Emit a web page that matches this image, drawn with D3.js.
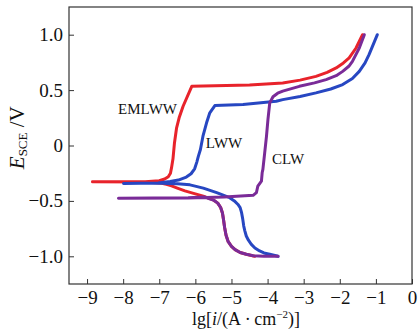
<!DOCTYPE html>
<html>
<head>
<meta charset="utf-8">
<script src="https://cdn.jsdelivr.net/npm/d3@7/dist/d3.min.js"></script>
<style>
  html, body { margin: 0; padding: 0; background: #fff; }
  svg { display: block; font-family: "Liberation Serif", "DejaVu Serif", serif; }
  .curve { fill: none; stroke-width: 3; stroke-linejoin: round; stroke-linecap: round; }
</style>
</head>
<body>
<svg id="chart" width="419" height="333"></svg>
<script>
// tick labels
const xTicks = [-9, -8, -7, -6, -5, -4, -3, -2, -1, 0];
const yTicks = [-1.0, -0.5, 0, 0.5, 1.0];

// polarisation curves, [lg i, E] (cathodic end -> Ecorr dip -> anodic end)
const emlww = [
  [-4.36, -1.0], [-4.59, -0.982], [-4.76, -0.966], [-4.90, -0.94], [-5.00, -0.91], [-5.09, -0.868],
  [-5.15, -0.81], [-5.19, -0.74], [-5.22, -0.67], [-5.25, -0.61], [-5.30, -0.56], [-5.38, -0.52],
  [-5.51, -0.490], [-5.78, -0.457], [-6.05, -0.432], [-6.29, -0.410], [-6.50, -0.385],
  [-6.66, -0.365], [-6.80, -0.350], [-6.93, -0.340], [-7.39, -0.329], [-8.85, -0.327],
  [-7.39, -0.327], [-7.00, -0.318], [-6.85, -0.302], [-6.75, -0.282], [-6.69, -0.25],
  [-6.66, -0.20], [-6.62, -0.12], [-6.58, 0.02], [-6.52, 0.16], [-6.45, 0.25],
  [-6.34, 0.354], [-6.10, 0.534], [-5.14, 0.541], [-4.50, 0.545], [-3.58, 0.565],
  [-3.10, 0.590], [-2.66, 0.624], [-2.35, 0.660], [-2.10, 0.700], [-1.90, 0.745],
  [-1.74, 0.790], [-1.55, 0.880], [-1.37, 1.0]
];
const lww = [
  [-3.71, -1.0], [-3.94, -0.982], [-4.10, -0.97], [-4.22, -0.952], [-4.35, -0.925],
  [-4.45, -0.892], [-4.53, -0.855], [-4.59, -0.817], [-4.63, -0.77], [-4.66, -0.727],
  [-4.69, -0.66], [-4.72, -0.606], [-4.76, -0.56], [-4.82, -0.532], [-4.92, -0.50],
  [-5.05, -0.471], [-5.41, -0.426], [-5.78, -0.385], [-6.15, -0.355], [-6.50, -0.345],
  [-6.75, -0.342], [-7.03, -0.338], [-7.99, -0.342], [-7.03, -0.338], [-6.70, -0.325],
  [-6.47, -0.312], [-6.25, -0.285], [-6.12, -0.255], [-6.02, -0.21], [-5.96, -0.15],
  [-5.92, -0.10], [-5.86, -0.036], [-5.79, 0.084], [-5.69, 0.205], [-5.60, 0.295],
  [-5.46, 0.360], [-4.68, 0.369], [-3.76, 0.399], [-3.58, 0.414], [-3.10, 0.443],
  [-2.66, 0.475], [-2.25, 0.510], [-1.92, 0.550], [-1.65, 0.605], [-1.46, 0.669],
  [-1.30, 0.745], [-1.19, 0.820], [-0.96, 1.0]
];
const clw = [
  [-3.71, -1.0], [-4.10, -1.0], [-4.40, -0.995], [-4.59, -0.982], [-4.76, -0.966],
  [-4.90, -0.94], [-5.00, -0.91], [-5.09, -0.868], [-5.15, -0.81], [-5.19, -0.74],
  [-5.22, -0.67], [-5.25, -0.61], [-5.30, -0.56], [-5.38, -0.52], [-5.48, -0.496],
  [-5.75, -0.465], [-6.20, -0.472], [-8.13, -0.477], [-6.20, -0.474], [-5.20, -0.465],
  [-4.40, -0.450], [-4.31, -0.426], [-4.27, -0.367], [-4.17, -0.322], [-4.15, -0.246],
  [-4.13, -0.216], [-4.08, -0.066], [-4.03, 0.084], [-3.99, 0.234], [-3.94, 0.385],
  [-3.85, 0.440], [-3.72, 0.472], [-3.58, 0.491], [-3.12, 0.534], [-2.70, 0.565],
  [-2.38, 0.595], [-2.10, 0.630], [-1.92, 0.669], [-1.75, 0.715], [-1.65, 0.759],
  [-1.46, 0.880], [-1.32, 1.0]
];

const series = [
  { name: 'EMLWW', points: emlww, color: '#e8232b', label: [-8.14, 0.288] },
  { name: 'LWW', points: lww, color: '#2747c2', label: [-5.71, -0.027] },
  { name: 'CLW', points: clw, color: '#7a2b98', label: [-3.88, -0.171] }
];

const serif = '"Liberation Serif", "DejaVu Serif", serif';
const svg = d3.select('#chart');
const margin = { top: 7, right: 7, bottom: 49, left: 69 };
const W = 419, H = 333;

const x = d3.scaleLinear().domain([-9.5, 0]).range([margin.left, W - margin.right]);
const y = d3.scaleLinear().domain([-1.25, 1.25]).range([H - margin.bottom, margin.top]);

// curves
const line = d3.line().x(d => x(d[0])).y(d => y(d[1]));
series.forEach(s => {
  svg.append('path')
    .datum(s.points)
    .attr('class', 'curve')
    .attr('stroke', s.color)
    .attr('d', line);
});

// curve names
series.forEach(s => {
  svg.append('text')
    .attr('x', x(s.label[0]))
    .attr('y', y(s.label[1]))
    .attr('font-size', 15)
    .attr('fill', '#111')
    .text(s.name);
});

// axes, ticks pointing inward
const styleAxis = g => {
  g.select('.domain').remove();
  g.attr('font-family', serif).attr('font-size', 19);
  g.selectAll('.tick line').attr('stroke', '#333');
  g.selectAll('.tick text').attr('fill', '#111');
};
const fmtY = d => d === 0 ? '0' : d3.format('.1f')(d);
svg.append('g')
  .attr('transform', `translate(${margin.left},0)`)
  .call(d3.axisLeft(y).tickValues(yTicks).tickSizeInner(-5).tickSizeOuter(0).tickPadding(6).tickFormat(fmtY))
  .call(styleAxis);

svg.append('g')
  .attr('transform', `translate(0,${H - margin.bottom})`)
  .call(d3.axisBottom(x).tickValues(xTicks).tickSizeInner(-5).tickSizeOuter(0).tickPadding(7).tickFormat(d3.format('d')))
  .call(styleAxis);

// frame
svg.append('rect')
  .attr('x', margin.left)
  .attr('y', margin.top)
  .attr('width', W - margin.left - margin.right)
  .attr('height', H - margin.top - margin.bottom)
  .attr('fill', 'none')
  .attr('stroke', '#333')
  .attr('stroke-width', 1.2);

// axis titles
const xt = svg.append('text')
  .attr('x', 246)
  .attr('y', 325)
  .attr('text-anchor', 'middle')
  .attr('font-size', 18)
  .attr('fill', '#111');
xt.append('tspan').text('lg[');
xt.append('tspan').attr('font-style', 'italic').text('i');
xt.append('tspan').text('/(A\u2009·\u2009cm');
xt.append('tspan').attr('font-size', 11).attr('dy', -7).text('\u22122');
xt.append('tspan').attr('dy', 7).text(')]');

const yt = svg.append('text')
  .attr('transform', `translate(24,${y(0.07)}) rotate(-90)`)
  .attr('text-anchor', 'middle')
  .attr('font-size', 21)
  .attr('fill', '#111');
yt.append('tspan').attr('font-style', 'italic').text('E');
yt.append('tspan').attr('font-size', 13).attr('dy', 3).text('SCE');
yt.append('tspan').attr('dy', -3).text(' /V');
</script>
</body>
</html>
